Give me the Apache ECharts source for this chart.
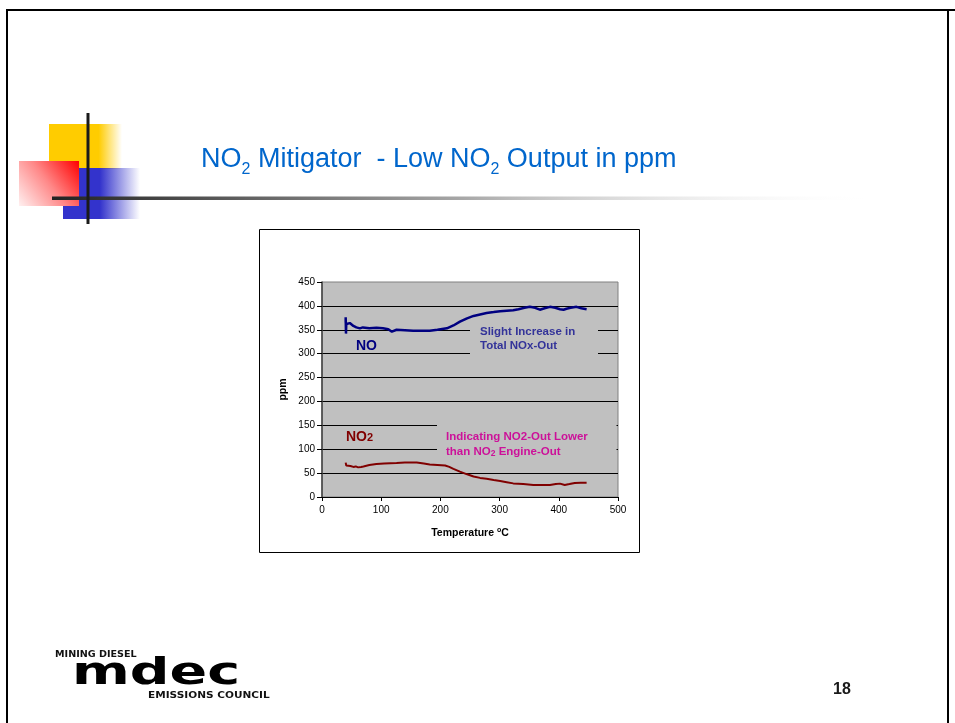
<!DOCTYPE html>
<html>
<head>
<meta charset="utf-8">
<script src="https://cdn.jsdelivr.net/npm/echarts@6/dist/echarts.min.js"></script>
<style>
html,body{margin:0;padding:0;background:#fff;}
#c{width:955px;height:723px;}
</style>
</head>
<body>
<div id="c"></div>
<script>
// ---- data ----
const noTemp = [40, 40, 40.5, 41, 44, 47, 53, 58, 64, 69, 80, 92, 103, 112, 118, 126, 140, 154, 170, 182, 195, 211, 222, 233, 245, 256, 267, 278, 290, 301, 312, 323, 332, 342, 351, 360, 368, 376, 385, 394, 402, 408, 413, 420, 430, 438, 447];
const noPpm  = [365, 376, 342, 362, 361, 364, 358, 355, 353, 355, 353, 354, 353, 351, 346, 350, 349, 348, 348, 348, 350, 353, 359, 367, 374, 379, 382, 385, 387, 389, 390, 391, 393, 396, 398, 396, 392, 395, 398, 396, 393, 392, 394, 396, 398, 395, 393];

const no2Temp = [40, 41, 43, 48, 53, 57, 61, 66, 70, 80, 92, 105, 126, 140, 160, 172, 182, 195, 208, 215, 222, 233, 244, 256, 267, 278, 290, 301, 312, 323, 340, 357, 370, 385, 395, 402, 410, 418, 427, 437, 447];
const no2Ppm  = [72, 66, 64, 65, 63, 64, 62, 63, 64, 67, 69, 70, 71, 72, 72, 70, 68, 67, 66, 63, 59, 53, 48, 43, 40, 38, 35.5, 33.5, 31, 28.5, 27, 25, 25, 25, 27, 28, 25, 27, 29.5, 30, 30];

const xTicks = [0, 100, 200, 300, 400, 500];
const yTicks = [0, 50, 100, 150, 200, 250, 300, 350, 400, 450];

const noData = noTemp.map((t, i) => [t, noPpm[i]]);
const no2Data = no2Temp.map((t, i) => [t, no2Ppm[i]]);

const chart = echarts.init(document.getElementById('c'), null, {renderer: 'canvas'});
const FF = '"Liberation Sans", Arial, sans-serif';

const graphics = [
  // slide frame
  {type: 'line', shape: {x1: 7, y1: 10, x2: 955, y2: 10}, style: {stroke: '#000', lineWidth: 2}, z: 1},
  {type: 'line', shape: {x1: 7, y1: 9, x2: 7, y2: 723}, style: {stroke: '#000', lineWidth: 2}, z: 1},
  {type: 'line', shape: {x1: 948, y1: 9, x2: 948, y2: 723}, style: {stroke: '#000', lineWidth: 2}, z: 1},
  // decorative squares
  {type: 'rect', shape: {x: 49, y: 124, width: 73, height: 45}, z: 1,
   style: {fill: new echarts.graphic.LinearGradient(0, 0, 1, 0, [
     {offset: 0, color: '#FFCC00'}, {offset: 0.68, color: '#FFCC00'}, {offset: 1, color: 'rgba(255,204,0,0)'}])}},
  {type: 'rect', shape: {x: 63, y: 168, width: 77, height: 51}, z: 2,
   style: {fill: new echarts.graphic.LinearGradient(0, 0, 1, 0, [
     {offset: 0, color: '#3333CC'}, {offset: 0.48, color: '#3333CC'}, {offset: 1, color: 'rgba(51,51,204,0)'}])}},
  {type: 'rect', shape: {x: 19, y: 161, width: 60, height: 45}, z: 3,
   style: {fill: new echarts.graphic.LinearGradient(1, 0, 0, 1, [
     {offset: 0, color: '#FF0000'}, {offset: 0.5, color: '#FF8888'}, {offset: 1, color: '#FFF0F0'}])}},
  {type: 'rect', shape: {x: 52, y: 196.5, width: 826, height: 3.5}, z: 4,
   style: {fill: new echarts.graphic.LinearGradient(0, 0, 1, 0, [
     {offset: 0, color: '#222222'}, {offset: 0.5, color: '#A8A8A8'}, {offset: 1, color: 'rgba(255,255,255,0)'}])}},
  {type: 'rect', shape: {x: 86.5, y: 113, width: 3, height: 111}, z: 5, style: {fill: '#1a1a1a'}},
  // title
  {type: 'text', x: 201, y: 160, z: 6,
   style: {text: 'NO{s|2} Mitigator  - Low NO{s|2} Output in ppm', fill: '#0066CC', font: '27px ' + FF,
           verticalAlign: 'middle', align: 'left',
           rich: {s: {fontSize: 16, fill: '#0066CC', fontFamily: FF, padding: [20, 0, 0, 0]}}}},
  // chart box
  {type: 'rect', shape: {x: 259.5, y: 229.5, width: 380, height: 323}, z: 1,
   style: {fill: 'none', stroke: '#000', lineWidth: 1}},
  // annotation boxes (cover gridlines)
  {type: 'rect', shape: {x: 470, y: 321, width: 128, height: 41}, z: 40, style: {fill: '#C0C0C0'}},
  {type: 'rect', shape: {x: 437, y: 417, width: 179.5, height: 40}, z: 40, style: {fill: '#C0C0C0'}},
  // annotation texts
  {type: 'text', x: 356, y: 346, z: 41,
   style: {text: 'NO', fill: '#000080', font: 'bold 14px ' + FF, verticalAlign: 'middle'}},
  {type: 'text', x: 480, y: 332, z: 41,
   style: {text: 'Slight Increase in', fill: '#333399', font: 'bold 11.5px ' + FF, verticalAlign: 'middle'}},
  {type: 'text', x: 480, y: 346, z: 41,
   style: {text: 'Total NOx-Out', fill: '#333399', font: 'bold 11.5px ' + FF, verticalAlign: 'middle'}},
  {type: 'text', x: 346, y: 437, z: 41,
   style: {text: 'NO{s|2}', fill: '#800000', font: 'bold 14px ' + FF, verticalAlign: 'middle',
           rich: {s: {fontSize: 11, fontWeight: 'bold', fill: '#800000', fontFamily: FF, padding: [2, 0, 0, 0]}}}},
  {type: 'text', x: 446, y: 437, z: 41,
   style: {text: 'Indicating NO2-Out Lower', fill: '#CC1199', font: 'bold 11.5px ' + FF, verticalAlign: 'middle'}},
  {type: 'text', x: 446, y: 452, z: 41,
   style: {text: 'than NO{s|2} Engine-Out', fill: '#CC1199', font: 'bold 11.5px ' + FF, verticalAlign: 'middle',
           rich: {s: {fontSize: 8.5, fontWeight: 'bold', fill: '#CC1199', fontFamily: FF, padding: [4, 0, 0, 0]}}}},
  // logo
  {type: 'text', x: 55, y: 655, z: 6, scaleX: 1.13,
   style: {text: 'MINING DIESEL', fill: '#111', font: 'bold 8.5px "DejaVu Sans", sans-serif', verticalAlign: 'middle',
           shadowBlur: 2, shadowColor: 'rgba(0,0,0,0.5)'}},
  {type: 'text', x: 72, y: 674, z: 6, scaleX: 1.46, scaleY: 1,
   style: {text: 'mdec', fill: '#000', font: 'bold 38px "DejaVu Sans", sans-serif', verticalAlign: 'middle',
           shadowBlur: 4, shadowColor: 'rgba(0,0,0,0.6)', shadowOffsetX: 1, shadowOffsetY: 1}},
  {type: 'text', x: 148, y: 696, z: 6, scaleX: 1.17,
   style: {text: 'EMISSIONS COUNCIL', fill: '#111', font: 'bold 9px "DejaVu Sans", sans-serif', verticalAlign: 'middle',
           shadowBlur: 2, shadowColor: 'rgba(0,0,0,0.5)'}},
  // page number
  {type: 'text', x: 833, y: 690, z: 6,
   style: {text: '18', fill: '#1a1a1a', font: 'bold 16px ' + FF, verticalAlign: 'middle'}}
];

chart.setOption({
  animation: false,
  backgroundColor: '#ffffff',
  grid: {left: 322, top: 282, width: 296, height: 215, show: true,
         backgroundColor: '#C0C0C0', borderColor: '#808080', borderWidth: 1},
  xAxis: {
    type: 'value', min: xTicks[0], max: xTicks[xTicks.length - 1], interval: xTicks[1] - xTicks[0],
    axisLine: {show: true, onZero: false, lineStyle: {color: '#000', width: 1}},
    axisTick: {show: true, length: 4, lineStyle: {color: '#000'}},
    axisLabel: {fontSize: 10, color: '#000', margin: 8, fontFamily: FF},
    splitLine: {show: false},
    name: 'Temperature {s|o}C', nameLocation: 'middle', nameGap: 30,
    nameTextStyle: {fontSize: 10.5, fontWeight: 'bold', color: '#000', fontFamily: FF,
      rich: {s: {fontSize: 7, fontWeight: 'bold', color: '#000', fontFamily: FF, padding: [0, 0, 5, 0]}}}
  },
  yAxis: {
    type: 'value', min: yTicks[0], max: yTicks[yTicks.length - 1], interval: yTicks[1] - yTicks[0],
    axisLine: {show: true, lineStyle: {color: '#404040', width: 1.5}},
    axisTick: {show: true, length: 5, lineStyle: {color: '#000'}},
    axisLabel: {fontSize: 10, color: '#000', margin: 7, fontFamily: FF},
    splitLine: {show: true, showMinLine: false, showMaxLine: false, lineStyle: {color: '#000', width: 1}},
    name: 'ppm', nameLocation: 'middle', nameGap: 33, nameRotate: 90,
    nameTextStyle: {fontSize: 10.5, fontWeight: 'bold', color: '#000', fontFamily: FF}
  },
  series: [
    {name: 'NO', type: 'line', data: noData, showSymbol: false, symbol: 'none',
     lineStyle: {color: '#000080', width: 2.5}, z: 3},
    {name: 'NO2', type: 'line', data: no2Data, showSymbol: false, symbol: 'none',
     lineStyle: {color: '#800000', width: 2}, z: 3}
  ],
  graphic: graphics
});
</script>
</body>
</html>
